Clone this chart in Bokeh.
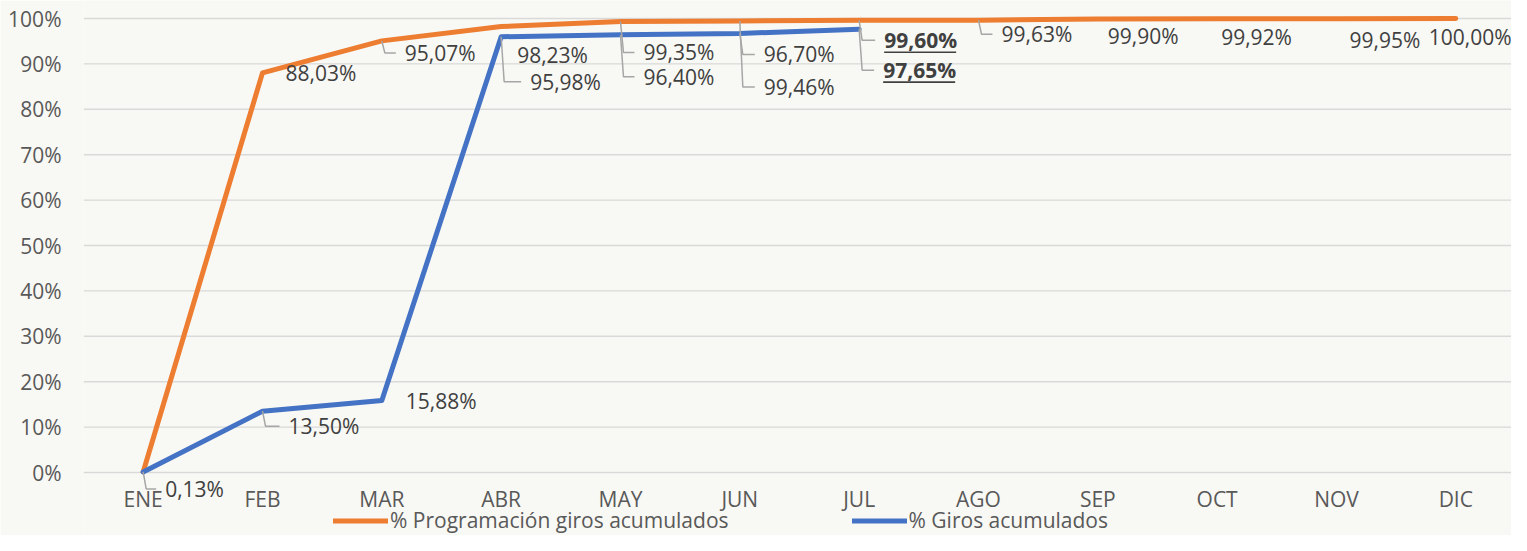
from bokeh.plotting import figure
from bokeh.models import ColumnDataSource, LabelSet, Legend, LegendItem, FixedTicker, Range1d
from bokeh.core.properties import value
from bokeh.embed import file_html
from bokeh.resources import INLINE

# ---------------- data ----------------
months = ["ENE", "FEB", "MAR", "ABR", "MAY", "JUN", "JUL", "AGO", "SEP", "OCT", "NOV", "DIC"]
prog_vals = [0.13, 88.03, 95.07, 98.23, 99.35, 99.46, 99.60, 99.63, 99.90, 99.92, 99.95, 100.00]
giros_vals = [0.13, 13.50, 15.88, 95.98, 96.40, 96.70, 97.65]
giros_labelled = [1, 2, 3, 4, 5, 6]          # month indices whose blue values carry a label
y_ticks = [0, 10, 20, 30, 40, 50, 60, 70, 80, 90, 100]
series_names = ["% Programación giros acumulados", "% Giros acumulados"]

# ---------------- style ----------------
ORANGE, BLUE = "#ED7D31", "#4472C4"
BG, GRID, TXT, AX, LEAD = "#F8F8F4", "#D9D9D9", "#404040", "#595959", "#A6A6A6"
FONT, FS = "Open Sans", "21px"
W, H = 1511, 535
ML = 83
FW, FH = W - ML, H
PXX = 119.33                     # px per month
PXY = 4.54                       # px per percentage point
X0 = -0.5
X1 = X0 + FW / PXX
Y1 = 100 + 18 / PXY
Y0 = Y1 - FH / PXY

# label offsets in pixels (dx right, dy down) and leader-line flags
prog_off = [(22, 17), (23, 0), (23, 12), (16, 28), (23, 31), (24, 66), (25, 20),
            (23, 14), (10, 17), (4, 18), (13, 21), (-27, 18)]
prog_lead = [True, False, True, False, True, True, True, True, False, False, False, False]
prog_bold = [False, False, False, False, False, False, True, False, False, False, False, False]
giros_off = [(26, 15), (24, 1), (29, 45), (23, 42), (24, 21), (24, 41)]
giros_lead = [True, False, True, True, True, True]
giros_bold = [False, False, False, False, False, True]


def fmt(v):
    return f"{v:.2f}%".replace(".", ",")


p = figure(width=W, height=H, x_range=Range1d(X0, X1), y_range=Range1d(Y0, Y1),
           output_backend="svg", toolbar_location=None, x_axis_location=None,
           min_border_left=ML, min_border_right=0, min_border_top=0, min_border_bottom=0)
p.background_fill_color = BG
p.border_fill_color = BG
p.outline_line_color = None

# y axis
ax = p.yaxis[0]
ax.ticker = FixedTicker(ticks=y_ticks)
ax.major_label_overrides = {t: f"{t}%" for t in y_ticks}
ax.axis_line_color = None
ax.major_tick_line_color = None
ax.minor_tick_line_color = None
ax.major_tick_out = 0
ax.major_tick_in = 0
ax.major_label_text_font = FONT
ax.major_label_text_font_size = FS
ax.major_label_text_color = AX
ax.major_label_standoff = 22
p.xgrid.visible = False
p.ygrid.visible = False

xs_prog = list(range(len(prog_vals)))
xs_giros = list(range(len(giros_vals)))

# horizontal gridlines spanning only the category area
p.segment([-0.5] * len(y_ticks), y_ticks, [len(months) - 0.5] * len(y_ticks), y_ticks,
          line_color=GRID, line_width=1.4)

r_prog = p.line(xs_prog, prog_vals, line_color=ORANGE, line_width=5, line_join="round", line_cap="round")
r_giros = p.line(xs_giros, giros_vals, line_color=BLUE, line_width=5, line_join="round", line_cap="round")

# category labels along the 0% line
cat_src = ColumnDataSource(dict(x=list(range(len(months))), y=[y_ticks[0]] * len(months), text=months))
p.add_layout(LabelSet(x="x", y="y", text="text", y_offset=-26, source=cat_src,
                      text_font=value(FONT), text_font_size=value(FS), text_color=AX,
                      text_align="center", text_baseline="middle"))


def leader_lines(xs, ys, offs, flags):
    lx, ly = [], []
    for x, y, (dx, dy), f in zip(xs, ys, offs, flags):
        if not f:
            continue
        yl = y - dy / PXY
        lx.append([x, x + 3 / PXX, x + (dx - 9) / PXX])
        ly.append([y, yl, yl])
    return lx, ly


gx = giros_labelled
gy = [giros_vals[i] for i in gx]

lx1, ly1 = leader_lines(xs_prog, prog_vals, prog_off, prog_lead)
lx2, ly2 = leader_lines(gx, gy, giros_off, giros_lead)
p.multi_line(lx1 + lx2, ly1 + ly2, line_color=LEAD, line_width=1.5)

# underline for bold labels
ux0, ux1, uy = [], [], []
for xs, ys, offs, bold in ((xs_prog, prog_vals, prog_off, prog_bold), (gx, gy, giros_off, giros_bold)):
    for x, y, (dx, dy), b in zip(xs, ys, offs, bold):
        if b:
            ux0.append(x + dx / PXX)
            ux1.append(x + (dx + 72) / PXX)
            uy.append(y - (dy + 12) / PXY)
p.segment(ux0, uy, ux1, uy, line_color=TXT, line_width=1.6)

lab_src = ColumnDataSource(dict(
    x=xs_prog + gx,
    y=prog_vals + gy,
    text=[fmt(v) for v in prog_vals] + [fmt(v) for v in gy],
    xo=[o[0] for o in prog_off] + [o[0] for o in giros_off],
    yo=[-o[1] for o in prog_off] + [-o[1] for o in giros_off],
    st=["bold" if b else "normal" for b in prog_bold + giros_bold],
))
labels = LabelSet(x="x", y="y", text="text", x_offset="xo", y_offset="yo", source=lab_src,
                  text_font=value(FONT), text_font_size=value(FS), text_color=TXT,
                  text_font_style="st", text_align="left", text_baseline="middle")
p.add_layout(labels)

legend = Legend(items=[LegendItem(label=series_names[0], renderers=[r_prog]),
                       LegendItem(label=series_names[1], renderers=[r_giros])],
                location=(250, 1), orientation="horizontal",
                glyph_width=55, glyph_height=21, label_height=21, label_standoff=2, spacing=123,
                padding=0, margin=0, border_line_color=None, background_fill_alpha=0,
                label_text_font=FONT, label_text_font_size=FS, label_text_color=AX)
p.add_layout(legend)

open("out.html", "w").write(file_html(p, INLINE))
